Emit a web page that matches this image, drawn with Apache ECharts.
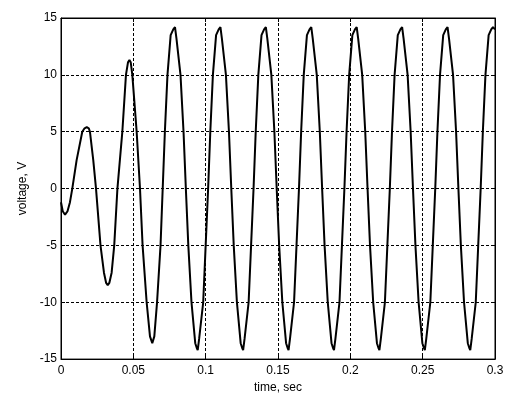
<!DOCTYPE html>
<html>
<head>
<meta charset="utf-8">
<script src="https://cdn.jsdelivr.net/npm/echarts@6/dist/echarts.min.js"></script>
<style>
html,body{margin:0;padding:0;background:#fff;}
#c{width:520px;height:399px;}
</style>
</head>
<body>
<div id="c"></div>
<script>
// time samples (s)
var timeSec = [
  0, 0.0012, 0.0028, 0.0045, 0.0062, 0.0078, 0.0108, 0.0147, 0.0163, 0.0178, 0.0192, 0.0200, 0.0223, 0.0242,
  0.0273, 0.0297, 0.0312, 0.0323, 0.0334, 0.0350, 0.0368, 0.0390, 0.0424, 0.0449, 0.0463, 0.0473, 0.0482, 0.0493,
  0.0523, 0.0546, 0.0564, 0.0592, 0.0615, 0.0631, 0.0645, 0.0664, 0.0688,
  0.0703, 0.0718, 0.0736, 0.0758, 0.0776, 0.0788, 0.0798, 0.0826, 0.0847, 0.0863, 0.0880, 0.0902, 0.0928, 0.0938, 0.0945, 0.0955, 0.0983, 0.1000,
  0.1017, 0.1032, 0.1050, 0.1072, 0.1090, 0.1102, 0.1112, 0.1140, 0.1161, 0.1177, 0.1194, 0.1216, 0.1242, 0.1252, 0.1259, 0.1269, 0.1297, 0.1314,
  0.1331, 0.1346, 0.1364, 0.1386, 0.1404, 0.1416, 0.1426, 0.1454, 0.1475, 0.1491, 0.1508, 0.1530, 0.1556, 0.1566, 0.1573, 0.1583, 0.1611, 0.1628,
  0.1645, 0.1660, 0.1678, 0.1700, 0.1718, 0.1730, 0.1740, 0.1768, 0.1789, 0.1805, 0.1822, 0.1844, 0.1870, 0.1880, 0.1887, 0.1897, 0.1925, 0.1942,
  0.1959, 0.1974, 0.1992, 0.2014, 0.2032, 0.2044, 0.2054, 0.2082, 0.2103, 0.2119, 0.2136, 0.2158, 0.2184, 0.2194, 0.2201, 0.2211, 0.2239, 0.2256,
  0.2273, 0.2288, 0.2306, 0.2328, 0.2346, 0.2358, 0.2368, 0.2396, 0.2417, 0.2433, 0.2450, 0.2472, 0.2498, 0.2508, 0.2515, 0.2525, 0.2553, 0.2570,
  0.2587, 0.2602, 0.2620, 0.2642, 0.2660, 0.2672, 0.2682, 0.2710, 0.2731, 0.2747, 0.2764, 0.2786, 0.2812, 0.2822, 0.2829, 0.2839, 0.2867, 0.2884,
  0.2901, 0.2916, 0.2934, 0.2956, 0.2974, 0.2986, 0.3000
];
// voltage samples (V)
var voltage = [
  -1.2, -2.0, -2.3, -2.0, -1.2, 0, 2.5, 5, 5.3, 5.4, 5.3, 5, 2.5, 0,
  -5, -7.4, -8.3, -8.5, -8.3, -7.4, -5, 0, 5, 10, 11.1, 11.3, 11.1, 10,
  5, 0, -5, -10, -13.0, -13.6, -13.0, -10, -5,
  0, 5, 10, 13.5, 14.0, 14.2, 13.2, 10, 5, 0, -5, -10, -13.6, -14.0, -14.2, -13.2, -10, -5,
  0, 5, 10, 13.5, 14.0, 14.2, 13.2, 10, 5, 0, -5, -10, -13.6, -14.0, -14.2, -13.2, -10, -5,
  0, 5, 10, 13.5, 14.0, 14.2, 13.2, 10, 5, 0, -5, -10, -13.6, -14.0, -14.2, -13.2, -10, -5,
  0, 5, 10, 13.5, 14.0, 14.2, 13.2, 10, 5, 0, -5, -10, -13.6, -14.0, -14.2, -13.2, -10, -5,
  0, 5, 10, 13.5, 14.0, 14.2, 13.2, 10, 5, 0, -5, -10, -13.6, -14.0, -14.2, -13.2, -10, -5,
  0, 5, 10, 13.5, 14.0, 14.2, 13.2, 10, 5, 0, -5, -10, -13.6, -14.0, -14.2, -13.2, -10, -5,
  0, 5, 10, 13.5, 14.0, 14.2, 13.2, 10, 5, 0, -5, -10, -13.6, -14.0, -14.2, -13.2, -10, -5,
  0, 5, 10, 13.5, 14.0, 14.2, 14.0
];
var xTicks = [0, 0.05, 0.1, 0.15, 0.2, 0.25, 0.3];
var yTicks = [-15, -10, -5, 0, 5, 10, 15];
var xLabel = 'time, sec';
var yLabel = 'voltage, V';

var pts = timeSec.map(function (t, i) { return [t, voltage[i]]; });
var FONT = '"Liberation Sans", Arial, Helvetica, sans-serif';
var lblStyle = { color: '#000', fontFamily: FONT, fontSize: 12 };
var dash = { show: true, showMinLine: false, showMaxLine: false, lineStyle: { color: '#000', width: 1, type: [3, 2] } };
var axLine = { show: true, onZero: false, lineStyle: { color: '#000' } };
var tick = { show: true, inside: true, length: 4, lineStyle: { color: '#000' } };

var chart = echarts.init(document.getElementById('c'), null, { renderer: 'canvas' });
chart.setOption({
  animation: false,
  backgroundColor: '#fff',
  grid: { left: 61, right: 25, top: 18, bottom: 39, show: true, borderColor: '#000', borderWidth: 1, backgroundColor: '#fff' },
  xAxis: [{
    type: 'value', min: xTicks[0], max: xTicks[xTicks.length - 1], interval: 0.05, position: 'bottom',
    name: xLabel, nameLocation: 'middle', nameGap: 21, nameTextStyle: lblStyle,
    axisLine: axLine, axisTick: tick,
    axisLabel: Object.assign({ margin: 6 }, lblStyle),
    splitLine: dash
  }, {
    type: 'value', min: xTicks[0], max: xTicks[xTicks.length - 1], interval: 0.05, position: 'top',
    axisLine: axLine, axisTick: tick,
    axisLabel: { show: false }, splitLine: { show: false }
  }],
  yAxis: [{
    type: 'value', min: yTicks[0], max: yTicks[yTicks.length - 1], interval: 5, position: 'left',
    name: yLabel, nameLocation: 'middle', nameGap: 30, nameTextStyle: lblStyle,
    axisLine: axLine, axisTick: tick,
    axisLabel: Object.assign({ margin: 4 }, lblStyle),
    splitLine: dash
  }, {
    type: 'value', min: yTicks[0], max: yTicks[yTicks.length - 1], interval: 5, position: 'right',
    axisLine: axLine, axisTick: tick,
    axisLabel: { show: false }, splitLine: { show: false }
  }],
  series: [{
    type: 'line', xAxisIndex: 0, yAxisIndex: 0, data: pts, showSymbol: false, symbol: 'none',
    lineStyle: { color: '#000', width: 2 }, clip: true
  }]
});
</script>
</body>
</html>
